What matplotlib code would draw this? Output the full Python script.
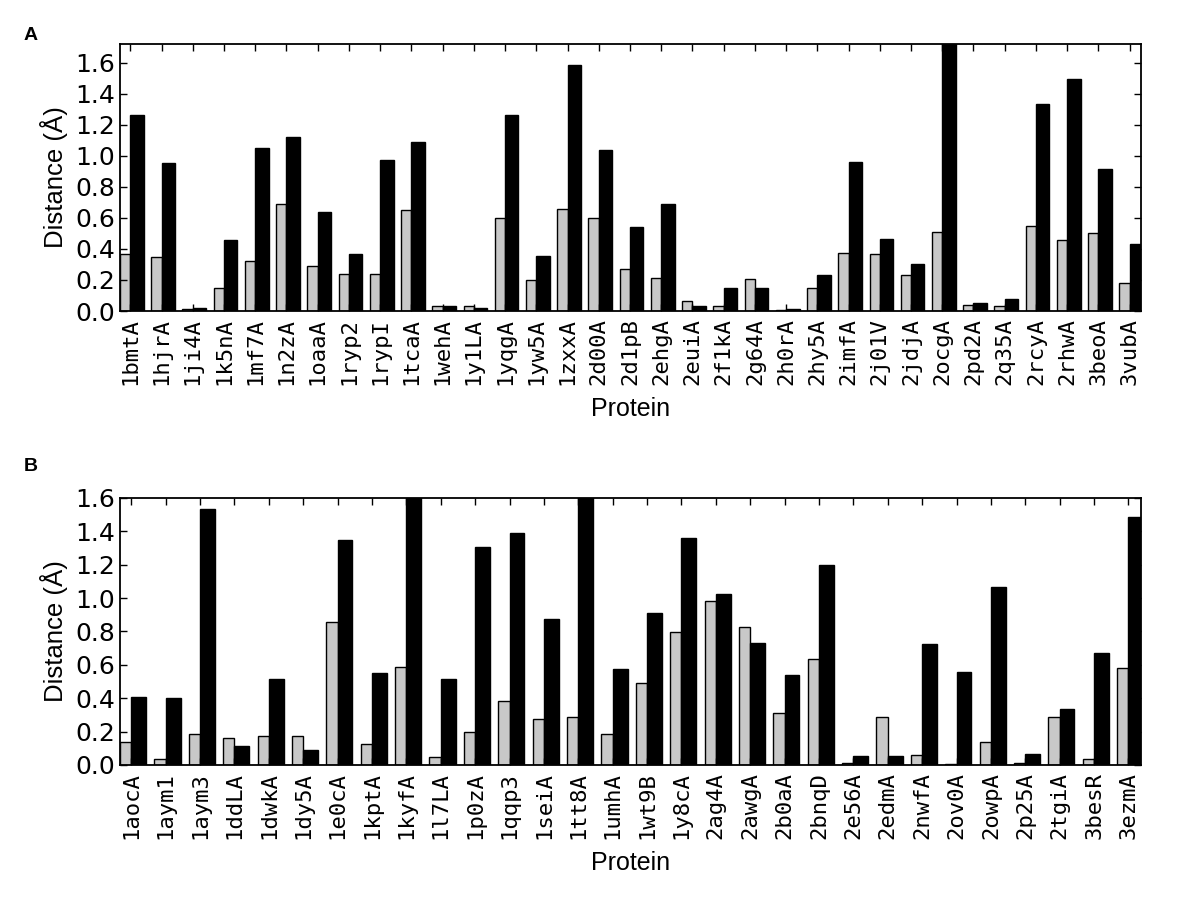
import matplotlib
matplotlib.use("Agg")
import matplotlib.pyplot as plt
import numpy as np

proteins_a = ["1bmtA", "1hjrA", "1ji4A", "1k5nA", "1mf7A", "1n2zA", "1oaaA", "1ryp2",
              "1rypI", "1tcaA", "1wehA", "1y1LA", "1yqgA", "1yw5A", "1zxxA", "2d00A",
              "2d1pB", "2ehgA", "2euiA", "2f1kA", "2g64A", "2h0rA", "2hy5A", "2imfA",
              "2j01V", "2jdjA", "2ocgA", "2pd2A", "2q35A", "2rcyA", "2rhwA", "3beoA", "3vubA"]
gray_a = [0.37, 0.35, 0.01, 0.15, 0.32, 0.69, 0.29, 0.24,
          0.24, 0.65, 0.03, 0.03, 0.60, 0.20, 0.66, 0.60,
          0.27, 0.21, 0.065, 0.035, 0.205, 0.005, 0.15, 0.375,
          0.365, 0.23, 0.51, 0.037, 0.03, 0.55, 0.458, 0.50, 0.18]
black_a = [1.265, 0.953, 0.02, 0.46, 1.05, 1.12, 0.64, 0.37,
           0.97, 1.09, 0.03, 0.02, 1.265, 0.355, 1.587, 1.04,
           0.54, 0.69, 0.03, 0.15, 0.15, 0.01, 0.23, 0.957,
           0.464, 0.30, 1.80, 0.054, 0.08, 1.335, 1.495, 0.914, 0.434]

proteins_b = ["1aocA", "1aym1", "1aym3", "1ddLA", "1dwkA", "1dy5A", "1e0cA", "1kptA",
              "1kyfA", "1l7LA", "1p0zA", "1qqp3", "1seiA", "1tt8A", "1umhA", "1wt9B",
              "1y8cA", "2ag4A", "2awgA", "2b0aA", "2bnqD", "2e56A", "2edmA", "2nwfA",
              "2ov0A", "2owpA", "2p25A", "2tgiA", "3besR", "3ezmA"]
gray_b = [0.136, 0.034, 0.184, 0.164, 0.174, 0.174, 0.859, 0.126,
          0.589, 0.05, 0.196, 0.385, 0.276, 0.29, 0.184, 0.491,
          0.799, 0.985, 0.829, 0.31, 0.635, 0.014, 0.29, 0.062,
          0.003, 0.136, 0.01, 0.286, 0.036, 0.583]
black_b = [0.41, 0.40, 1.534, 0.114, 0.513, 0.09, 1.348, 0.551,
           1.70, 0.513, 1.308, 1.388, 0.873, 1.70, 0.573, 0.909,
           1.358, 1.023, 0.729, 0.541, 1.196, 0.056, 0.056, 0.723,
           0.559, 1.066, 0.064, 0.334, 0.673, 1.484]

yticks = [0.0, 0.2, 0.4, 0.6, 0.8, 1.0, 1.2, 1.4, 1.6]

fig = plt.figure(figsize=(12, 9), dpi=100)

label_font = ["Liberation Sans", "DejaVu Sans"]
mono_font = ["DejaVu Sans Mono"]


def panel(rect, names, g, b, ytop, letter, letter_y):
    ax = fig.add_axes(rect)
    x = np.arange(len(names))
    ax.bar(x - 0.33, g, width=0.33, align="edge", color="#c8c8c8",
           edgecolor="black", linewidth=1.0)
    ax.bar(x, b, width=0.43, align="edge", color="black",
           edgecolor="black", linewidth=1.0)
    ax.set_xlim(-0.33, len(names) - 1 + 0.37)
    ax.set_ylim(0, ytop)
    ax.set_xticks(x)
    ax.set_xticklabels(names, rotation=90, family=mono_font, fontsize=16)
    ax.set_yticks(yticks)
    ax.set_yticklabels(["%.1f" % v for v in yticks], fontsize=18,
                       family=["DejaVu Sans"])
    ax.tick_params(direction="in", top=True, right=True, length=5, width=1)
    ax.tick_params(axis="x", pad=5)
    for s in ax.spines.values():
        s.set_linewidth(1.3)
    ax.set_ylabel("Distance (Å)", family=label_font, fontsize=18.5, labelpad=5)
    ax.set_xlabel("Protein", family=label_font, fontsize=18, labelpad=9)
    fig.text(0.02, letter_y, letter, fontsize=14, fontweight="bold",
             family=label_font, va="center")
    return ax


panel([0.1, 0.6544, 0.851, 0.2967], proteins_a, gray_a, black_a, 1.72, "A", 0.961)
panel([0.1, 0.15, 0.851, 0.2967], proteins_b, gray_b, black_b, 1.6, "B", 0.482)

fig.savefig("out.png", dpi=100)
